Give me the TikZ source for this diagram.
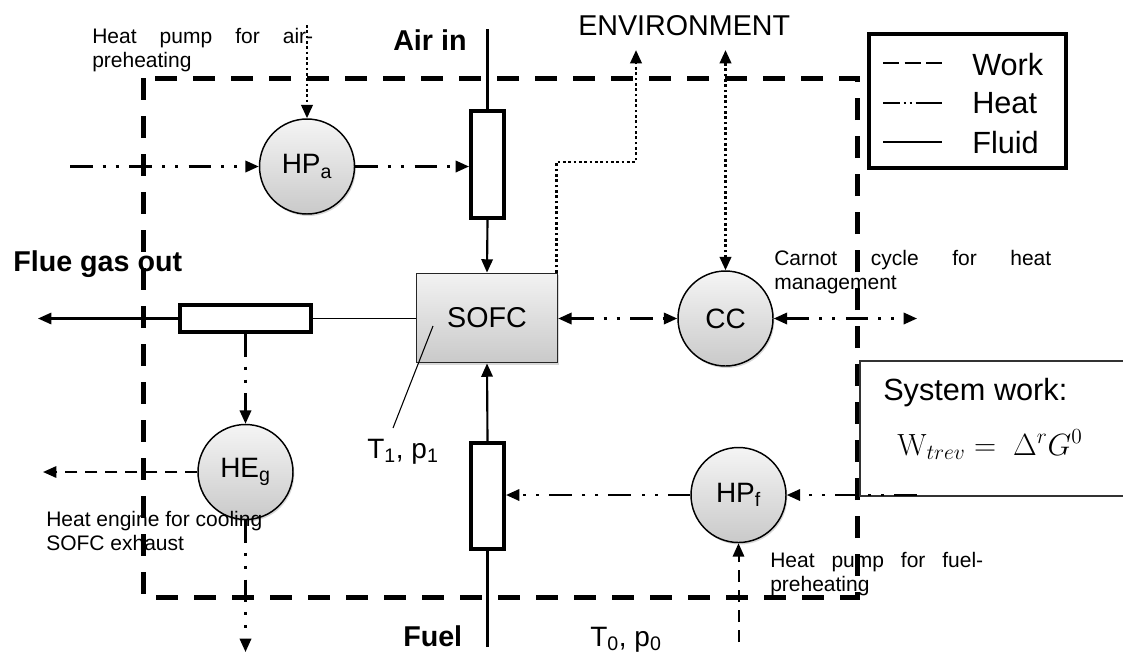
\RequirePackage{fix-cm}
\documentclass[tikz,border=0pt]{standalone}
\usepackage[no-math]{fontspec}
\setmainfont{Liberation Sans}
\usetikzlibrary{arrows.meta,shadows,calc}
\newcommand\annfont{\fontsize{15.75}{18}\selectfont}
\newcommand\boldlbl{\fontsize{21.5}{24}\selectfont\bfseries}
\newcommand\bigfont{\fontsize{21.5}{24}\selectfont}
\newcommand\legfont{\fontsize{23}{26}\selectfont}
\newcommand\unitfont{\fontsize{21}{24}\selectfont}
\begin{document}
\begin{tikzpicture}[x=0.75pt,y=-0.75pt,
  >={Triangle[length=10pt,width=8.5pt]},
  fluid/.style={line width=1.6pt},
  thinfluid/.style={line width=0.9pt},
  heat/.style={line width=1.75pt, dash pattern=on 17pt off 7.5pt on 2.25pt off 7.5pt on 2.25pt off 8pt},
  work/.style={line width=1.5pt, dash pattern=on 9pt off 6pt},
  dotline/.style={line width=2pt, dash pattern=on 2pt off 2pt},
  boundary/.style={line width=3.75pt, dash pattern=on 16.5pt off 12pt},
  unit/.style={circle, draw=black, line width=1.1pt, top color=gray!8, bottom color=gray!42,
    minimum size=71.25pt, inner sep=0pt, font=\unitfont,
    drop shadow={shadow xshift=1pt,shadow yshift=-1.5pt,opacity=0.3}},
  hx/.style={draw=black, line width=3pt, fill=white, inner sep=0pt},
  lbl/.style={inner sep=0pt, anchor=base west},
]
\fill[white] (0,0) rectangle (1123,654);
\useasboundingbox (0,0) rectangle (1123,654);

% system boundary
\draw[boundary] (143,78) rectangle (857,597);

% system work box
\fill[white] (860,361) rectangle (1123,496);
\draw[line width=1.1pt, black!80] (1123,361) -- (860,361) -- (860,496) -- (1123,496);
\node[lbl, font=\legfont] (swtxt) at (883,400) {System work:};
\node[lbl, font=\legfont] (swf) at (897,455) {$\mathrm{W}_{trev} =\ \Delta^{r}G^{0}$};

% components
\node[hx, minimum width=24.75pt, minimum height=80.25pt] (airx) at (487.5,164.5) {};
\node[hx, minimum width=24.75pt, minimum height=79.5pt] (fuelx) at (487.5,496) {};
\node[hx, minimum width=98.25pt, minimum height=20.25pt] (exh) at (245.5,318.5) {};
\node[draw=black!85, line width=1.1pt, top color=gray!10, bottom color=gray!42,
  minimum width=105.75pt, minimum height=67pt, inner sep=0pt, font=\bigfont,
  drop shadow={shadow xshift=1pt,shadow yshift=-1.5pt,opacity=0.3}] (sofc) at (487,318) {SOFC};
\node[unit] (hpa) at (307,166.5) {HP\textsubscript{a}};
\node[unit] (cc) at (725.5,318.5) {CC};
\node[unit] (heg) at (245.5,472) {HE\textsubscript{g}};
\node[unit] (hpf) at (738.5,495) {HP\textsubscript{f}};

% free ends
\coordinate (airin) at (487.5,29);
\coordinate (fuelin) at (487.5,647);
\coordinate (flueout) at (38,318.5);
\coordinate (wout) at (43,472);
\coordinate (hegout) at (245.5,652);
\coordinate (hpain) at (307,25);
\coordinate (hpaheat) at (70,166.5);
\coordinate (envbend) at (636,162);
\coordinate (env1) at (636,50);
\coordinate (env2) at (725.5,50);
\coordinate (ccout) at (917,318.5);
\coordinate (hpfin) at (917,495);
\coordinate (hpfw) at (738.5,642);
\coordinate (sofcpt) at (433,326);
\coordinate (t1pt) at (393,428);

% fluid
\draw[fluid] (airin) -- (airx.north);
\draw[fluid,->] (airx.south) -- (sofc.north);
\draw[fluid] (fuelin) -- (fuelx.south);
\draw[fluid,->] (fuelx.north) -- (sofc.south);
\draw[thinfluid] (exh.east) -- (exh.east -| sofc.west);
\draw[fluid,->] (exh.west) -- (flueout);

% heat
\draw[heat,->] (exh.south) -- (heg.north);
\draw[heat,->] (heg.south) -- (hegout);
\draw[heat,->] (hpaheat) -- (hpa.west);
\draw[heat,->] (hpa.east) -- (hpa.east -| airx.west);
\draw[heat,<->] (sofc.east |- cc.west) -- (cc.west);
\draw[heat,<->] (cc.east) -- (ccout);
\draw[heat,->] (hpfin) -- (hpf.east);
\draw[heat,->] (hpf.west) -- (hpf.west -| fuelx.east);

% work
\draw[work,->] (heg.west) -- (wout);
\draw[work,->] (hpfw) -- (hpf.south);

% environment (dotted)
\draw[dotline,->] (hpain) -- (hpa.north);
\draw[dotline,->] ([xshift=-1.5pt]sofc.north east) |- (envbend) -- (env1);
\draw[dotline,<->] (cc.north) -- (env2);

% state pointer
\draw[line width=0.8pt] (sofcpt) -- (t1pt);

% labels
\node[lbl, font=\annfont] (hpatxt) at (92,43)
  {\parbox[t]{165.75pt}{\makebox[165.75pt][s]{Heat pump for air-}\\preheating}};
\node[lbl, font=\annfont] (cctxt) at (774,265)
  {\parbox[t]{207.75pt}{\makebox[207.75pt][s]{Carnot cycle for heat}\\management}};
\node[lbl, font=\annfont] (hpftxt) at (770,567)
  {\parbox[t]{159.75pt}{\makebox[159.75pt][s]{Heat pump for fuel-}\\preheating}};
\node[lbl, font=\annfont] (hegtxt) at (46,526)
  {\parbox[t]{200pt}{Heat engine for cooling\\SOFC exhaust}};
\node[lbl, font=\boldlbl] (airlbl) at (393,50) {Air in};
\node[lbl, font=\boldlbl] (fluelbl) at (13,271) {Flue gas out};
\node[lbl, font=\boldlbl] (fuellbl) at (403,646) {Fuel};
\node[lbl, font=\bigfont] (envlbl) at (578,35) {ENVIRONMENT};
\node[lbl, font=\unitfont] (t1) at (367,458) {T\textsubscript{1}, p\textsubscript{1}};
\node[lbl, font=\unitfont] (t0) at (590,646) {T\textsubscript{0}, p\textsubscript{0}};

% legend
\node[draw, line width=3pt, fill=white, minimum width=147.75pt, minimum height=100.5pt, inner sep=0pt] (legend) at (967.5,101) {};
\draw[line width=1.5pt, dash pattern=on 12pt off 4.3pt] (883,63) -- (942,63);
\draw[line width=1.5pt, dash pattern=on 12.5pt off 3pt on 1.5pt off 3pt on 1.5pt off 3pt on 20pt] (883,103) -- (942,103);
\draw[line width=1.5pt] (883,142) -- (942,142);
\node[lbl, font=\legfont] (lwork) at (972,75) {Work};
\node[lbl, font=\legfont] (lheat) at (972,113) {Heat};
\node[lbl, font=\legfont] (lfluid) at (972,153) {Fluid};
\end{tikzpicture}
\end{document}
